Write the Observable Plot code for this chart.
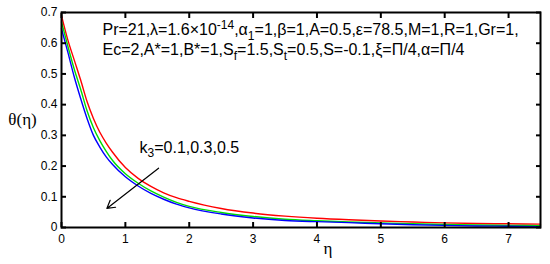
<!DOCTYPE html>
<html>
<head>
<meta charset="utf-8">
<script src="https://cdn.jsdelivr.net/npm/d3@7"></script>
<script src="https://cdn.jsdelivr.net/npm/@observablehq/plot@0.6"></script>
<style>
  html, body { margin: 0; padding: 0; background: #fff; }
</style>
</head>
<body>
<div id="chart"></div>
<script>
// ---- data ----
const eta = [0, 0.1, 0.2, 0.3, 0.4, 0.5, 0.6, 0.7, 0.8, 1.0, 1.2, 1.4, 1.6, 1.8, 2.0, 2.5, 3.0, 3.5, 4.0, 4.5, 5.0, 5.5, 6.0, 6.5, 7.0, 7.5];
const thetaK01 = [0.69, 0.61, 0.545, 0.48, 0.41, 0.355, 0.31, 0.275, 0.245, 0.195, 0.16, 0.134, 0.113, 0.097, 0.085, 0.062, 0.047, 0.037, 0.030, 0.025, 0.021, 0.018, 0.015, 0.013, 0.012, 0.011];
const thetaK03 = [0.669, 0.59, 0.515, 0.45, 0.38, 0.325, 0.283, 0.248, 0.218, 0.175, 0.144, 0.119, 0.099, 0.082, 0.069, 0.049, 0.036, 0.027, 0.022, 0.018, 0.015, 0.012, 0.010, 0.008, 0.007, 0.006];
const thetaK05 = [0.647, 0.57, 0.49, 0.42, 0.355, 0.30, 0.262, 0.23, 0.205, 0.165, 0.135, 0.111, 0.092, 0.076, 0.064, 0.044, 0.031, 0.023, 0.019, 0.016, 0.012, 0.009, 0.007, 0.005, 0.004, 0.003];
const seriesNames = ["k3=0.1", "k3=0.3", "k3=0.5"];
const seriesColors = ["#ff0000", "#00dd00", "#0000ff"];
const xTicks = [0, 1, 2, 3, 4, 5, 6, 7];
const yTicks = [0, 0.1, 0.2, 0.3, 0.4, 0.5, 0.6, 0.7];
const arrowFrom = {eta: 1.52, theta: 0.193};
const arrowTo = {eta: 0.71, theta: 0.062};
const paramLine1 = "Pr=21,λ=1.6×10-14,α1=1,β=1,A=0.5,ε=78.5,M=1,R=1,Gr=1,";
const paramLine2 = "Ec=2,A*=1,B*=1,Sf=1.5,St=0.5,S=-0.1,ξ=Π/4,α=Π/4";
const k3Label = "k3=0.1,0.3,0.5";

// ---- build table ----
const allSeries = [thetaK01, thetaK03, thetaK05];
const rows = [];
allSeries.forEach((vals, i) => {
  vals.forEach((v, j) => rows.push({eta: eta[j], theta: v, series: seriesNames[i]}));
});

const FONT = "'Liberation Sans', Arial, sans-serif";
const SERIF = "'Liberation Serif', 'DejaVu Serif', serif";

const svg = Plot.plot({
  width: 550,
  height: 264,
  marginLeft: 61,
  marginRight: 10,
  marginTop: 12,
  marginBottom: 37,
  style: {fontFamily: FONT, fontSize: "12px", background: "#fff", color: "#000"},
  x: {domain: [0, 7.5]},
  y: {domain: [0, 0.7]},
  color: {domain: seriesNames, range: seriesColors},
  marks: [
    Plot.line(rows, {x: "eta", y: "theta", z: "series", stroke: "series", strokeWidth: 1.4, curve: "monotone-x"}),
    Plot.arrow([{a: arrowFrom, b: arrowTo}], {
      x1: d => d.a.eta, y1: d => d.a.theta, x2: d => d.b.eta, y2: d => d.b.theta,
      stroke: "#000", strokeWidth: 1.2, headLength: 11
    }),
    Plot.frame({stroke: "#000", strokeWidth: 2}),
    Plot.axisX(xTicks, {anchor: "bottom", tickSize: -5, strokeWidth: 2, tickFormat: () => "", label: null}),
    Plot.axisX(xTicks, {anchor: "top", tickSize: -5, strokeWidth: 2, tickFormat: () => "", label: null}),
    Plot.axisY(yTicks, {anchor: "left", tickSize: -5, strokeWidth: 2, tickFormat: () => "", label: null}),
    Plot.axisY(yTicks, {anchor: "right", tickSize: -5, strokeWidth: 2, tickFormat: () => "", label: null}),
    Plot.axisX(xTicks, {anchor: "bottom", tickSize: 0, tickPadding: 7, fontSize: 12, label: null}),
    Plot.axisY(yTicks, {anchor: "left", tickSize: 0, tickPadding: 4, fontSize: 12, label: null,
      tickFormat: d => d === 0 ? "0" : d.toFixed(1)}),
    Plot.text([paramLine1], {frameAnchor: "top-left", text: d => d, dx: 41, dy: 11.5, textAnchor: "start", lineAnchor: "top", fontSize: 16, fontFamily: FONT}),
    Plot.text([paramLine2], {frameAnchor: "top-left", text: d => d, dx: 41, dy: 31.5, textAnchor: "start", lineAnchor: "top", fontSize: 16, fontFamily: FONT}),
    Plot.text([k3Label], {frameAnchor: "top-left", text: d => d, dx: 78, dy: 129, textAnchor: "start", lineAnchor: "top", fontSize: 16, fontFamily: FONT}),
    Plot.text(["θ(η)"], {frameAnchor: "left", text: d => d, dx: -39, textAnchor: "middle", lineAnchor: "middle", fontSize: 17, fontFamily: SERIF}),
    Plot.text(["η"], {frameAnchor: "bottom", text: d => d, dx: 27, dy: 21, textAnchor: "middle", lineAnchor: "middle", fontSize: 17, fontFamily: SERIF})
  ]
});

// rich text: subscripts / superscripts
function richify(root, plain, parts, fs) {
  d3.select(root).selectAll("text").filter(function () { return this.textContent === plain; }).each(function () {
    const t = d3.select(this);
    t.text(null);
    let shift = 0;
    for (const [s, kind] of parts) {
      const ts = t.append("tspan").text(s);
      let target = 0;
      if (kind === "sub") { target = fs * 0.28; ts.attr("font-size", fs * 0.75); }
      if (kind === "sup") { target = -fs * 0.42; ts.attr("font-size", fs * 0.75); }
      const dy = target - shift;
      if (dy !== 0) ts.attr("dy", dy);
      shift = target;
    }
  });
}
richify(svg, paramLine1, [["Pr=21,λ=1.6×10", ""], ["-14", "sup"], [",α", ""], ["1", "sub"], ["=1,β=1,A=0.5,ε=78.5,M=1,R=1,Gr=1,", ""]], 16);
richify(svg, paramLine2, [["Ec=2,A*=1,B*=1,S", ""], ["f", "sub"], ["=1.5,S", ""], ["t", "sub"], ["=0.5,S=-0.1,ξ=Π/4,α=Π/4", ""]], 16);
richify(svg, k3Label, [["k", ""], ["3", "sub"], ["=0.1,0.3,0.5", ""]], 16);

document.getElementById("chart").appendChild(svg);
</script>
</body>
</html>
